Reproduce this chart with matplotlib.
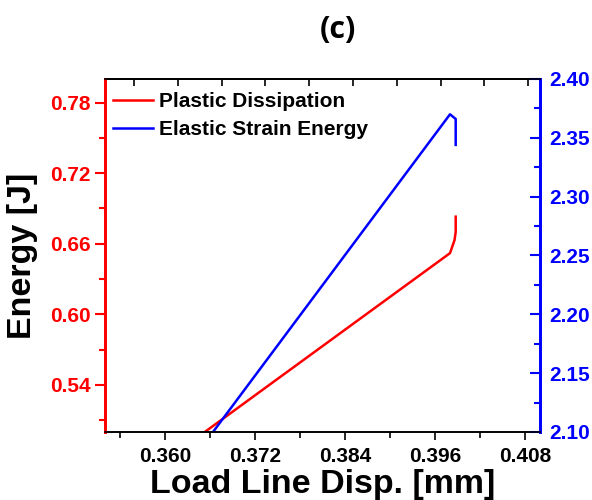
import matplotlib
matplotlib.use("Agg")
import matplotlib.pyplot as plt
from matplotlib.ticker import MultipleLocator, FixedLocator

# Data
plastic_x = [0.3653, 0.3980, 0.3986, 0.39876, 0.39876]
plastic_y = [0.500, 0.652, 0.663, 0.670, 0.683]
elastic_x = [0.3664, 0.3980, 0.39876, 0.39876]
elastic_y = [2.100, 2.370, 2.366, 2.344]

xticks = [0.360, 0.372, 0.384, 0.396, 0.408]
left_ticks = [0.54, 0.60, 0.66, 0.72, 0.78]
right_ticks = [2.10, 2.15, 2.20, 2.25, 2.30, 2.35, 2.40]
top_ticks = [0.35587, 0.36171, 0.36755, 0.37339, 0.37923, 0.38507,
             0.39091, 0.39675, 0.40259, 0.40843]

font = "Liberation Sans"
plt.rcParams['font.family'] = [font, 'DejaVu Sans']
plt.rcParams['font.weight'] = 'bold'

fig = plt.figure(figsize=(5.92, 5.0), dpi=100)
ax = fig.add_axes([105/592, 1-432/500, 435/592, 353/500])
ax2 = ax.twinx()

l1, = ax.plot(plastic_x, plastic_y, color='#ff0000', lw=1.8, label='Plastic Dissipation')
l2, = ax2.plot(elastic_x, elastic_y, color='#0000ff', lw=1.8, label='Elastic Strain Energy')

ax.set_xlim(0.352, 0.410)
ax.set_ylim(0.50, 0.80)
ax2.set_ylim(2.10, 2.40)

ax.set_xticks(xticks)
ax.set_xticklabels([f"{v:.3f}" for v in xticks])
ax.xaxis.set_minor_locator(MultipleLocator(0.006))
ax.set_yticks(left_ticks)
ax.set_yticklabels([f"{v:.2f}" for v in left_ticks])
ax.yaxis.set_minor_locator(MultipleLocator(0.03))
ax2.set_yticks(right_ticks)
ax2.set_yticklabels([f"{v:.2f}" for v in right_ticks])
ax2.yaxis.set_minor_locator(MultipleLocator(0.025))

# spines
for a in (ax, ax2):
    a.spines['left'].set_color('#ff0000')
    a.spines['right'].set_color('#0000ff')
    a.spines['left'].set_linewidth(2.0)
    a.spines['right'].set_linewidth(2.0)
    a.spines['top'].set_linewidth(1.2)
    a.spines['bottom'].set_linewidth(1.2)

ax.tick_params(axis='x', which='both', direction='out', color='black', width=1.2,
               labelsize=15, pad=5, top=False)
ax.tick_params(axis='x', which='major', length=6)
ax.tick_params(axis='x', which='minor', length=4)
ax.tick_params(axis='y', which='both', direction='out', color='#ff0000', width=1.5,
               labelcolor='#ff0000', labelsize=15, pad=3)
ax.tick_params(axis='y', which='major', length=7)
ax.tick_params(axis='y', which='minor', length=4)
ax2.tick_params(axis='y', which='both', direction='in', color='#0000ff', width=1.5,
                labelcolor='#0000ff', labelsize=15, pad=7)
ax2.tick_params(axis='y', which='major', length=7)
ax2.tick_params(axis='y', which='minor', length=4)

# top axis ticks (offset, unlabeled)
sec = ax.secondary_xaxis('top')
sec.xaxis.set_major_locator(FixedLocator(top_ticks))
sec.tick_params(axis='x', direction='in', length=5, width=1.2, labeltop=False)
sec.spines['top'].set_linewidth(1.2)

for lab in ax.get_xticklabels() + ax.get_yticklabels() + ax2.get_yticklabels():
    lab.set_fontweight('bold')

ax.set_xlabel('Load Line Disp. [mm]', fontsize=24.5, fontweight='bold', labelpad=2)
ax.set_ylabel('Energy [J]', fontsize=24.5, fontweight='bold', labelpad=9)

leg = ax.legend(handles=[l1, l2], loc='upper left', frameon=False,
                prop={'weight': 'bold', 'size': 15, 'family': font},
                handlelength=1.9, handletextpad=0.3, borderaxespad=0.0,
                labelspacing=0.42, bbox_to_anchor=(0.0, 0.986))

fig.text(338/592, 1-30/500, '(c)', ha='center', va='center', fontsize=22,
         fontweight='bold', family=['Open Sans', 'DejaVu Sans'])

fig.savefig('out.png', dpi=100)
